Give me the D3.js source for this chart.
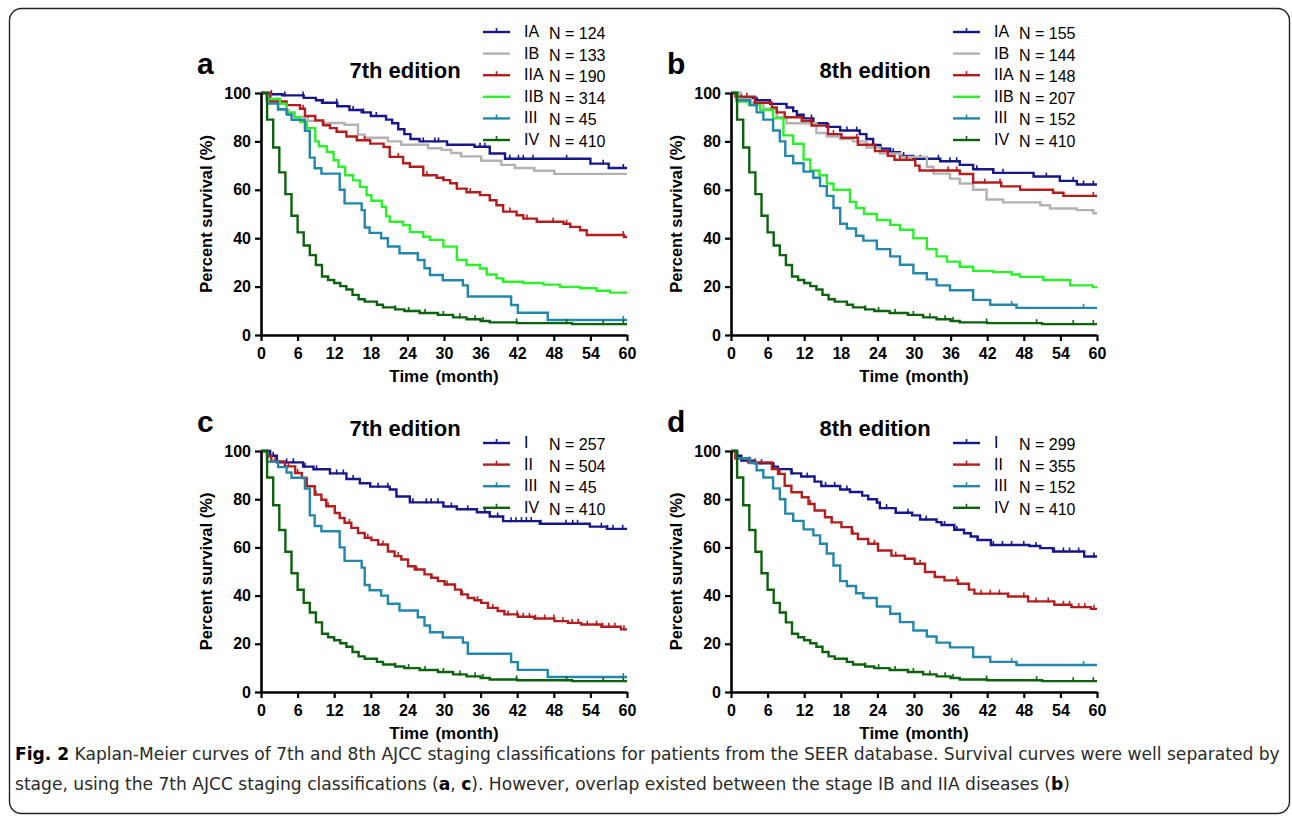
<!DOCTYPE html>
<html>
<head>
<meta charset="utf-8">
<script src="https://cdn.jsdelivr.net/npm/d3@7"></script>
<style>
  body { margin: 0; background: #fff; }
</style>
</head>
<body>
<svg id="fig" width="1292" height="816"></svg>
<script>
// ---- data: Kaplan-Meier steps [month, percent survival] ----
const monthTicks = [0, 6, 12, 18, 24, 30, 36, 42, 48, 54, 60]
const survTicks = [0, 20, 40, 60, 80, 100]

const stages6 = ['IA', 'IB', 'IIA', 'IIB', 'III', 'IV']
const stages4 = ['I', 'II', 'III', 'IV']
const n7a = [124, 133, 190, 314, 45, 410]
const n8b = [155, 144, 148, 207, 152, 410]
const n7c = [257, 504, 45, 410]
const n8d = [299, 355, 152, 410]

// 7th edition, panel a
const s7_IA = [[0,100],[1.5,99.5],[3.5,99],[7,98],[9,97],[10,96],[12.5,94.5],[14.5,93],[16.5,92],[18,90.5],[20.5,89],[21.5,87.5],[22.5,85],[23.5,83],[24.5,81],[26,80],[30.5,78.6],[35,77.8],[37.5,75],[40,72.8],[54,70.8],[57,69]]
const s7_IB = [[0,100],[1.5,97],[2.8,93],[4.5,91],[5.5,90],[7.7,88.5],[10,87.6],[13.7,86.9],[15.9,82.8],[17,81.5],[20.8,80],[23,78.6],[27.4,77.2],[29.6,76.5],[31.2,75.2],[32.8,73.8],[36.1,72],[39.4,70.3],[41.6,69],[44.8,67.9],[48.1,66.6]]
const s7_IIA = [[0,100],[1.5,96.5],[4.2,95],[6.4,93.5],[7.2,90.5],[8.9,88.7],[10.2,86.7],[11.3,85.5],[12.4,84],[14,82],[15.7,80.5],[17.9,79.1],[20.1,77.7],[21.1,73.6],[23.3,71],[24.4,69.5],[26.6,66],[28.8,65],[29.9,64],[31,62.7],[32.1,60.5],[33.7,59],[35.9,57.8],[37.5,55.7],[38.6,53.6],[39.7,51],[41.9,49.5],[43,48.1],[45.2,46.8],[49.6,46],[50.7,44.7],[52.3,43.3],[53.4,41.3],[59.5,40.5]]
const s7_IIB = [[0,100],[0.9,97.5],[3.1,95.5],[4.2,92],[5.5,90],[6.4,88],[7.5,85.5],[8.9,80],[9.5,78],[10.8,75.6],[11.9,72.2],[12.7,69.5],[13.8,66],[15.1,63.9],[16.2,61.2],[17.3,57.8],[18.1,55.5],[19.8,53],[20.5,49],[21.1,46.8],[23.3,45.4],[24.4,42.5],[26.6,40.6],[27.7,39.3],[29.9,36.5],[32.1,31],[33.7,28.9],[35.9,27.5],[37,25],[38.6,23.4],[39.7,22],[43,21.5],[46.3,20.8],[49,19.9],[52.3,19.3],[55,18.3],[57.2,17.5]]
const s7_III = [[0,100],[1,95.6],[2.8,93.3],[4.2,91.1],[5,88.9],[7.2,84.4],[8,73.3],[8.8,68.9],[9.9,66.7],[12.9,60],[13.7,54.4],[16.5,51.6],[17,44.4],[17.8,42.2],[19.7,40],[20.8,36.6],[22.7,33.8],[25.7,31],[26.8,27.6],[27.7,24.8],[29.8,22.6],[33.1,20.5],[33.9,15.9],[41,12.4],[42.1,9.2],[47,6.2]]
// 8th edition, panel b
const s8_IA = [[0,100],[1.5,98],[4.2,97],[6.4,95.5],[9.1,94],[10.2,92.5],[10.8,91],[11.9,89.5],[13.5,87.5],[15.7,86],[17.9,84.5],[21.1,83],[22.2,81],[23.3,78.5],[24.5,77],[26.1,75.5],[27.7,74],[29.9,72.8],[34.3,71.8],[37.5,70.3],[39.7,68.5],[43,67],[49.6,65.5],[53.9,63.7],[56.7,62.2]]
const s8_IB = [[0,100],[1.5,97.5],[3.2,96],[5.3,93.5],[7.5,90],[9.1,87.5],[14,83.5],[15.7,82],[17.9,81],[20,80],[22.2,77.5],[24.4,75],[27.7,73.6],[32.1,69.5],[33.2,66.7],[35.9,64.6],[37.5,62.6],[39.7,60],[41.9,56],[44.6,54.8],[50.7,53.6],[52.3,52.3],[56.7,51.6],[59.4,50.3]]
const s8_IIA = [[0,100],[0.7,98.5],[3.9,96],[6.7,94],[7.5,92],[8.8,90],[11.6,88.5],[13.2,86.5],[15.9,83],[18.1,81.5],[20.8,78.6],[23.6,76],[25.7,74],[26.8,72.4],[30.2,70],[30.9,68],[37.5,66.5],[39.7,63],[44.3,61.4],[47.4,60],[52.8,58.8],[54.5,57.5]]
const s8_IIB = [[0,100],[1,96.5],[3,95],[4.8,93],[6.9,89.5],[8.6,82.5],[10.2,79],[11.9,72.5],[13,68],[14.5,66],[15.7,62.6],[16.8,60],[19.5,55],[20.5,52.5],[21.8,50],[23.9,47.5],[26.1,45.5],[27.7,43.5],[29.9,40],[32.1,35.5],[33.7,32.5],[35.4,30.3],[37.5,28.2],[39.7,26.5],[43,26],[46,25],[47.4,24],[51.2,22.7],[55.6,20.5],[59.3,19.8]]
const s8_III = [[0,100],[0.9,97],[3.1,95],[4.2,92],[5.3,89],[6.9,84.5],[8,80],[8.9,74],[10.2,71],[11.9,67.5],[13.5,65],[14.6,61.5],[15.7,57.5],[16.8,52.5],[17.9,46],[19,44],[20.5,41],[21.7,39],[23.9,35.5],[26.1,32.5],[27.7,29],[29.9,25.5],[32.1,23],[33.7,20.5],[35.9,18.5],[39.7,14.5],[42.5,12.5],[46.8,11.2]]
// grouped stages, panels c and d
const s7_I = [[0,100],[1.5,98],[2.6,95.3],[6.9,93.5],[8.6,92.4],[11.3,90.7],[14,88.4],[16.2,86.6],[17.9,85.2],[21.1,84],[22.2,81.1],[24.4,78.7],[29.9,77],[32.1,75.8],[35.4,74.6],[37.5,72.8],[39.7,70.9],[45.7,69.8],[53.9,68.6],[56.7,67.7]]
const s7_II = [[0,100],[1,97.8],[1.7,95.7],[3.9,93.6],[5.6,90.9],[6.7,88.8],[7.5,85.4],[8.8,81.9],[9.9,79.8],[10.7,77.1],[12.1,74.3],[12.9,72.2],[13.7,70.2],[14.8,68.1],[15.9,66],[17,64],[18.1,63],[19.2,61.2],[20.8,58.3],[21.9,56.4],[23,55],[24.1,52.2],[25.2,50.8],[26.8,48.8],[27.9,47.4],[29,46],[30.1,44.6],[31.8,42.5],[32.8,40.5],[33.9,39],[35,38.1],[36.1,37],[37.2,34.9],[38.8,33.6],[39.9,32.2],[42.1,31.2],[44.8,30.5],[48.1,29.4],[50.3,28.7],[52.5,28],[55.8,27.1],[59,26]]
const s8_I = [[0,100],[1,98],[1.7,96],[3.9,94.9],[6.9,93.5],[7.7,92.5],[9.9,90.7],[11.5,89.4],[13.7,87.3],[14.8,85.5],[17.9,84],[19.5,83],[21.5,81.5],[22.5,80],[23.9,78.6],[24.4,76.3],[27,74.4],[29.7,73.3],[31,71.6],[33.7,70.5],[34.5,69.3],[36.6,67.3],[38.2,65.9],[39.3,64.5],[40.4,63.1],[42.6,61],[48.9,60.6],[50.7,59.7],[52.8,58.3],[57.9,56.2]]
const s8_II = [[0,100],[0.7,97],[2.8,95.3],[6.7,92.5],[7.7,90.5],[8.8,85.6],[9.9,82.9],[11.6,80.8],[12.7,78],[13.7,75.3],[15.4,72.5],[16.5,70.4],[18.1,68.4],[19.8,65.7],[20.8,63.5],[22.5,61.5],[24.1,58.7],[26.3,56.6],[28.5,55.3],[30.1,53.2],[31.8,49.8],[33.4,47.7],[35,46.3],[37.2,44.9],[39,42.5],[39.9,40.8],[45.4,39.6],[48.7,37.6],[53,36.2],[55.8,35.2],[59,34.5]]
// stage IV is the same cohort in every panel
const sIV = [[0,100],[1,89],[2,77.5],[3,67.2],[4,58.2],[5,49.3],[6,42.4],[7,37],[8,33],[9,28.9],[10,24.2],[11,22.7],[12,21.5],[13,20.2],[14,18.8],[15,16.6],[16,14.8],[17,13.8],[19,12.5],[20,11.4],[22,10.6],[23.5,9.9],[26,9.1],[29,8.3],[31.5,7.3],[33.7,6.5],[36,5.8],[37.5,5.2],[42,4.9],[51,4.5]]

// censoring marks (months)
const c7_IA = [1.7,3.9,6.9,10.2,12.4,15.1,16.8,18.9,26.6,28.5,29.1,35.9,36.7,40.8,42.2,43,44.6,50.1,56.1,59.4]
const c7_IIA = [2.8,6.9,12.4,17,22.5,27.2,29.9,32.1,34.3,35.9,40.8,43.6,47.9,50.1,59.4]
const c7_III = [59.4]
const c8_IA = [1.7,6.4,10.2,13.2,16,19,20.6,26.6,28.3,31,34,35.9,37,40.3,43,44.6,51.7,56.1,57.8,59.4]
const c8_IIA = [2.6,7.5,13,16.8,20.6,27.7,28.8,35.6,37,41.6,44.1,59.4]
const c8_III = [46,57.8]
const c7_I = [2,4.2,5.3,7.2,9.1,11.3,12.4,13.5,15.1,19.2,20.8,24.9,27.1,27.9,29,31.2,33.9,36.7,38.8,41,41.8,42.7,43.5,44.3,45.9,50,51.1,51.9,55.8,56.8,57.7,59.3]
const c7_II = [2.3,4.5,6,9,11,14.5,17.5,20,22.5,25.5,28,30.5,33,35.5,38,40.5,42,43,44,45,46.5,48,49.5,51,52,53.5,55,56,57,58,59.5]
const c8_I = [3,5,7,10,12.5,15.5,17,19,24,25.5,27,29,32,35,37,40.5,43,44.5,46,48,50,53,54.5,55.5,57,59.5]
const c8_II = [4,8,13,16.5,20,23.5,27,31,33.5,37,41,42.5,44,45.5,48,50,52,54.5,55.5,57,58,59.5]
const cIV = [22,24.2,26.9,29.9,32.6,35.1,36.4,41.9,50.1,56.1,59.4]

const navy = '#17178c', grey = '#b2b2b2', red = '#b31d1d', lime = '#2bf02b', teal = '#2387ac', dkgreen = '#0d630d'
const colors6 = [navy, grey, red, lime, teal, dkgreen]
const colors4 = [navy, red, teal, dkgreen]

const panels = [
    { letter: 'a', title: '7th edition', left: 261, top: 93, h: 242, stages: stages6, ns: n7a, colors: colors6,
      curves: [s7_IA, s7_IB, s7_IIA, s7_IIB, s7_III, sIV], censors: [c7_IA, [], c7_IIA, [], c7_III, cIV], legTop: -61 },
    { letter: 'b', title: '8th edition', left: 731, top: 93, h: 242, stages: stages6, ns: n8b, colors: colors6,
      curves: [s8_IA, s8_IB, s8_IIA, s8_IIB, s8_III, sIV], censors: [c8_IA, [], c8_IIA, [], c8_III, cIV], legTop: -61 },
    { letter: 'c', title: '7th edition', left: 261, top: 451, h: 241, stages: stages4, ns: n7c, colors: colors4,
      curves: [s7_I, s7_II, s7_III, sIV], censors: [c7_I, c7_II, c7_III, cIV], legTop: -8 },
    { letter: 'd', title: '8th edition', left: 731, top: 451, h: 241, stages: stages4, ns: n8d, colors: colors4,
      curves: [s8_I, s8_II, s8_III, sIV], censors: [c8_I, c8_II, c8_III, cIV], legTop: -8 }
]

// pick the first installed font of a list, by comparing widths against a generic fallback
const probe = document.createElement('canvas').getContext('2d')
function pickFont(list) {
    const sample = 'Percent survival N = 124 abcdefghijklmnopqrstuvwxyz'
    for (const f of list) {
        for (const base of ['monospace', 'serif']) {
            probe.font = `16px ${base}`
            const w0 = probe.measureText(sample).width
            probe.font = `16px "${f}", ${base}`
            if (Math.abs(probe.measureText(sample).width - w0) > 0.5) return `"${f}", sans-serif`
        }
    }
    return 'sans-serif'
}
const chartFont = pickFont(['Liberation Sans', 'Arimo', 'Roboto', 'Inter'])
const capFont = pickFont(['Liberation Sans Narrow', 'DejaVu Sans Condensed', 'Open Sans', 'Noto Sans', 'Lato'])

const svg = d3.select('#fig').style('font-family', chartFont)

// rounded frame round the whole figure
svg.append('rect')
    .attr('x', 9.5).attr('y', 8.5).attr('width', 1280).attr('height', 805).attr('rx', 12)
    .attr('fill', 'none').attr('stroke', '#222').attr('stroke-width', 1.4)

const bisect = d3.bisector(d => d[0]).right

function drawPanel(p) {
    const w = 366, h = p.h
    const g = svg.append('g').attr('transform', `translate(${p.left},${p.top})`)
    const x = d3.scaleLinear().domain([0, 60]).range([0, w])
    const y = d3.scaleLinear().domain([0, 100]).range([h, 0])
    const line = d3.line().x(d => x(d[0])).y(d => y(d[1])).curve(d3.curveStepAfter)

    p.curves.forEach((c, i) => {
        const pts = c.concat([[60, c[c.length - 1][1]]])
        g.append('path')
            .attr('d', line(pts))
            .attr('fill', 'none')
            .attr('stroke', p.colors[i])
            .attr('stroke-width', 2.4)
        // censor ticks
        g.selectAll(null)
            .data(p.censors[i])
            .enter()
            .append('line')
            .attr('x1', t => x(t)).attr('x2', t => x(t))
            .attr('y1', t => y(c[bisect(c, t) - 1][1]) - 4)
            .attr('y2', t => y(c[bisect(c, t) - 1][1]) + 1)
            .attr('stroke', p.colors[i])
            .attr('stroke-width', 1.6)
    })

    // axes
    const xAxis = g.append('g')
        .attr('transform', `translate(0,${h})`)
        .call(d3.axisBottom(x).tickValues(monthTicks).tickSize(6).tickPadding(7).tickSizeOuter(0))
    const yAxis = g.append('g')
        .call(d3.axisLeft(y).tickValues(survTicks).tickSize(6).tickPadding(4).tickSizeOuter(0))
    for (const a of [xAxis, yAxis]) {
        a.attr('font-family', null).attr('font-size', null)
        a.select('.domain').attr('stroke', '#000').attr('stroke-width', 2.6)
        a.selectAll('.tick line').attr('stroke', '#000').attr('stroke-width', 2.2)
        a.selectAll('.tick text')
            .attr('fill', '#000')
            .style('font-family', chartFont)
            .style('font-size', '16px')
            .style('font-weight', 'bold')
    }

    g.append('text')
        .attr('x', w / 2).attr('y', h + 47)
        .attr('text-anchor', 'middle')
        .style('font-size', '17px').style('font-weight', 'bold')
        .style('word-spacing', '2px')
        .text('Time (month)')

    g.append('text')
        .attr('transform', `translate(-49,${h / 2}) rotate(-90)`)
        .attr('text-anchor', 'middle')
        .style('font-size', '16.5px').style('font-weight', 'bold')
        .text('Percent survival (%)')

    g.append('text')
        .attr('x', 144).attr('y', -15)
        .attr('text-anchor', 'middle')
        .style('font-size', '22px').style('font-weight', 'bold')
        .text(p.title)

    g.append('text')
        .attr('x', -64).attr('y', -19)
        .style('font-size', '30px').style('font-weight', 'bold')
        .text(p.letter)

    // legend
    p.stages.forEach((s, i) => {
        const ly = p.legTop + i * 21.6
        g.append('line')
            .attr('x1', 222).attr('x2', 249).attr('y1', ly).attr('y2', ly)
            .attr('stroke', p.colors[i]).attr('stroke-width', 2.4)
        if (p.censors[i].length) {
            g.append('line')
                .attr('x1', 235.5).attr('x2', 235.5).attr('y1', ly - 4).attr('y2', ly + 1)
                .attr('stroke', p.colors[i]).attr('stroke-width', 1.6)
        }
        g.append('text')
            .attr('x', 263).attr('y', ly + 5)
            .style('font-size', '16px')
            .text(s)
        g.append('text')
            .attr('x', 288).attr('y', ly + 7)
            .style('font-size', '16px')
            .text('N = ' + p.ns[i])
    })
}

panels.forEach(drawPanel)

// caption, squeezed horizontally so the first line spans the frame like the original
const cap1 = svg.append('text').attr('y', 760)
    .style('font-family', capFont).style('font-size', '18px').attr('fill', '#2a2a2a')
cap1.append('tspan').style('font-weight', 'bold').attr('fill', '#000').text('Fig. 2')
cap1.append('tspan').text(' Kaplan-Meier curves of 7th and 8th AJCC staging classifications for patients from the SEER database. Survival curves were well separated by')

const cap2 = svg.append('text').attr('y', 790)
    .style('font-family', capFont).style('font-size', '18px').attr('fill', '#2a2a2a')
cap2.append('tspan').text('stage, using the 7th AJCC staging classifications (')
cap2.append('tspan').style('font-weight', 'bold').attr('fill', '#000').text('a')
cap2.append('tspan').text(', ')
cap2.append('tspan').style('font-weight', 'bold').attr('fill', '#000').text('c')
cap2.append('tspan').text('). However, overlap existed between the stage IB and IIA diseases (')
cap2.append('tspan').style('font-weight', 'bold').attr('fill', '#000').text('b')
cap2.append('tspan').text(')')

const sx = 1266 / cap1.node().getComputedTextLength()
cap1.attr('transform', `translate(15,0) scale(${sx},1)`)
cap2.attr('transform', `translate(15,0) scale(${sx},1)`)
</script>
</body>
</html>
